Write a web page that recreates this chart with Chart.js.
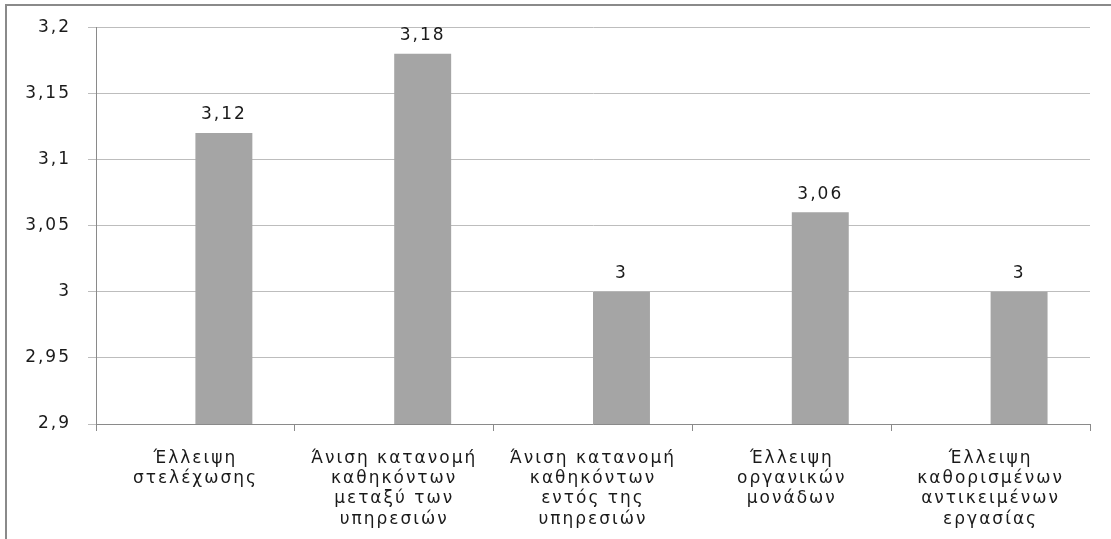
<!DOCTYPE html>
<html>
<head>
<meta charset="utf-8">
<script src="https://cdn.jsdelivr.net/npm/chart.js@4"></script>
<style>
  html, body { margin: 0; padding: 0; background: #fff; overflow: hidden; }
  canvas { display: block; }
</style>
</head>
<body>
<canvas id="chart" width="1111" height="539"></canvas>
<script>
const categories = [
    ['Έλλειψη', 'στελέχωσης'],
    ['Άνιση κατανομή', 'καθηκόντων', 'μεταξύ των', 'υπηρεσιών'],
    ['Άνιση κατανομή', 'καθηκόντων', 'εντός της', 'υπηρεσιών'],
    ['Έλλειψη', 'οργανικών', 'μονάδων'],
    ['Έλλειψη', 'καθορισμένων', 'αντικειμένων', 'εργασίας']
];
const emptySeries = [null, null, null, null, null];
const meanValues = [3.12, 3.18, 3, 3.06, 3];
const yMin = 2.9, yMax = 3.2, yStep = 0.05;

const FONT = 'DejaVu Sans';
const SPACING = '2px';

const fmt = v => String(Number(v.toFixed(2))).replace('.', ',');

const spacingPlugin = {
    id: 'spacing',
    beforeUpdate(chart) { chart.ctx.letterSpacing = SPACING; },
    beforeDraw(chart) { chart.ctx.letterSpacing = SPACING; }
};

// outer chart frame (only left and top edges are visible in the picture)
const framePlugin = {
    id: 'frame',
    afterDraw(chart) {
        const ctx = chart.ctx;
        ctx.save();
        ctx.strokeStyle = '#8a8a8a';
        ctx.lineWidth = 2;
        ctx.beginPath();
        ctx.moveTo(6, chart.height + 20);
        ctx.lineTo(6, 5);
        ctx.lineTo(chart.width + 20, 5);
        ctx.stroke();
        ctx.restore();
    }
};

const valueLabels = {
    id: 'valueLabels',
    afterDatasetsDraw(chart) {
        const ctx = chart.ctx;
        const meta = chart.getDatasetMeta(1);
        ctx.save();
        ctx.font = '17px ' + FONT;
        ctx.fillStyle = '#1a1a1a';
        ctx.textAlign = 'center';
        ctx.textBaseline = 'middle';
        meta.data.forEach((bar, i) => {
            ctx.fillText(fmt(meanValues[i]), bar.x, bar.y - 18);
        });
        ctx.restore();
    }
};

new Chart(document.getElementById('chart').getContext('2d'), {
    type: 'bar',
    data: {
        labels: categories,
        datasets: [
            { label: 'Σειρά 1', data: emptySeries, backgroundColor: '#a5a5a5' },
            { label: 'Μέσος όρος', data: meanValues, backgroundColor: '#a5a5a5' }
        ]
    },
    options: {
        responsive: false,
        animation: false,
        events: [],
        categoryPercentage: 0.573,
        barPercentage: 1,
        layout: { padding: { top: 27, right: 21, left: 0, bottom: 0 } },
        plugins: { legend: { display: false }, tooltip: { enabled: false } },
        scales: {
            x: {
                grid: { drawOnChartArea: false, drawTicks: true, tickLength: 7, color: '#8a8a8a', offset: true },
                border: { color: '#8a8a8a' },
                ticks: { color: '#1a1a1a', font: { family: FONT, size: 17, lineHeight: 1.2 },
                         padding: 17, maxRotation: 0, autoSkip: false },
                afterFit: s => { s.height = 115; }
            },
            y: {
                min: yMin, max: yMax,
                grid: { color: '#bdbdbd', tickLength: 8 },
                border: { color: '#8a8a8a' },
                ticks: { stepSize: yStep, color: '#1a1a1a', font: { family: FONT, size: 17 },
                         padding: 17, callback: v => fmt(v) },
                afterFit: s => { s.width = 96; }
            }
        }
    },
    plugins: [spacingPlugin, valueLabels, framePlugin]
});
</script>
</body>
</html>
